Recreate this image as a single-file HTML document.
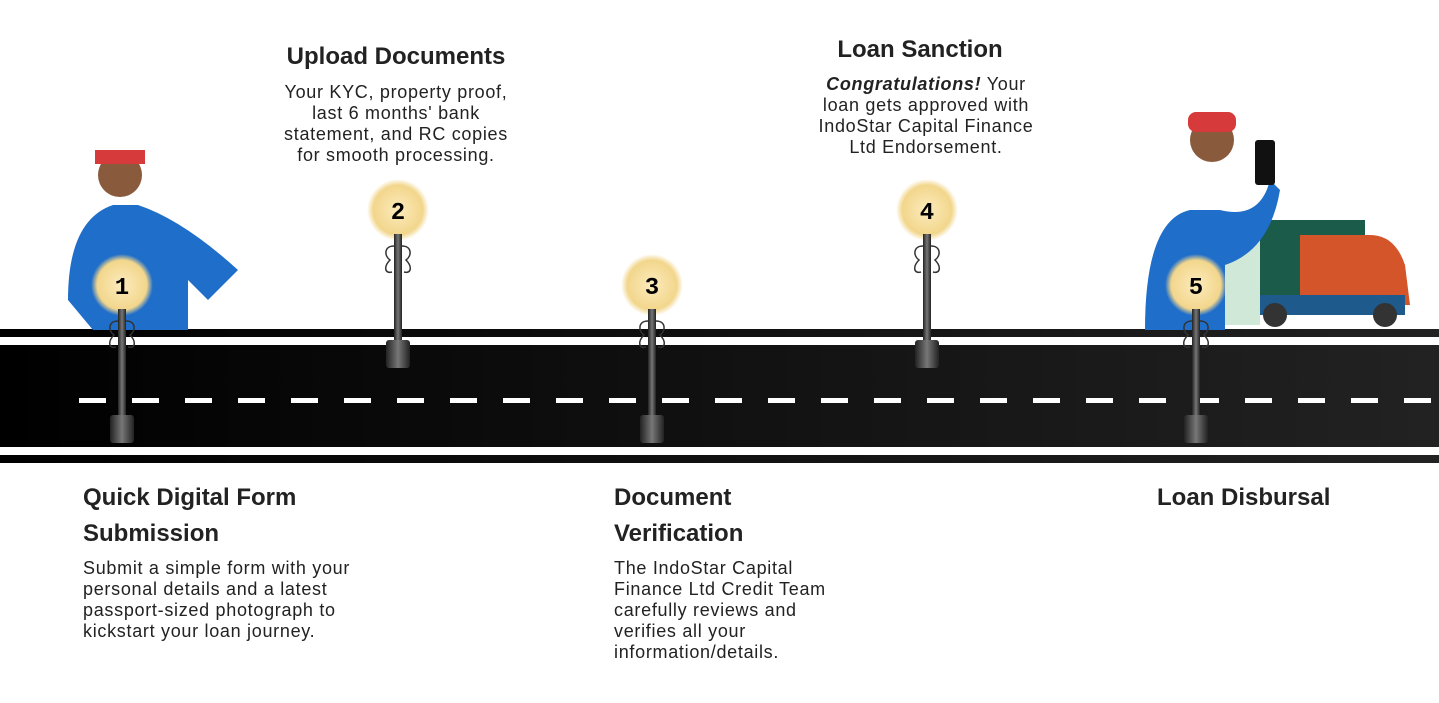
<!DOCTYPE html>
<html><head><style>
body{margin:0;width:1439px;height:703px;background:#fff;position:relative;overflow:hidden;font-family:"Liberation Sans",sans-serif;color:#222}
.h{position:absolute;font-weight:bold;font-size:24px;color:#222;line-height:36px}
.p{position:absolute;font-size:18px;letter-spacing:0.7px;line-height:21px;color:#222}
.c{text-align:center}
</style></head><body>
<svg width="1439" height="703" style="position:absolute;left:0;top:0">
<defs>
<linearGradient id="rd" x1="0" x2="1"><stop offset="0" stop-color="#000"/><stop offset="1" stop-color="#222"/></linearGradient>
<radialGradient id="gl"><stop offset="0" stop-color="#fcebbd"/><stop offset="0.8" stop-color="#f2d68c"/><stop offset="1" stop-color="#f2d68c" stop-opacity="0"/></radialGradient>
<linearGradient id="pl" x1="0" x2="1"><stop offset="0" stop-color="#222"/><stop offset=".5" stop-color="#777"/><stop offset="1" stop-color="#222"/></linearGradient>
<g id="lamp">
<circle cx="0" cy="0" r="31" fill="url(#gl)"/>
<rect x="-4" y="24" width="8" height="108" fill="url(#pl)"/>
<path d="M-4 36 c-10 0 -10 10 -4 14 c-6 6 -6 14 2 12 M4 36 c10 0 10 10 4 14 c6 6 6 14 -2 12" stroke="#333" stroke-width="1.5" fill="none"/>
<rect x="-12" y="130" width="24" height="28" rx="3" fill="url(#pl)"/>
</g>
</defs>
<rect x="0" y="329" width="1439" height="134" fill="url(#rd)"/>
<rect x="0" y="337" width="1439" height="8" fill="#fff"/>
<rect x="0" y="447" width="1439" height="8" fill="#fff"/>
<line x1="79" y1="400.5" x2="1439" y2="400.5" stroke="#fff" stroke-width="5" stroke-dasharray="27 26"/>
<path d="M68 300 q0-80 45-95 l25 0 q45 15 100 65 l-30 30 l-20-20 l0 50 l-95 0 z" fill="#1f6ec9"/>
<circle cx="120" cy="175" r="22" fill="#8a5a3c"/><rect x="95" y="150" width="50" height="14" fill="#d63a3a"/>
<rect x="1255" y="220" width="110" height="80" fill="#1a5b4a"/>
<path d="M1300 235 h70 q25 0 35 30 l5 40 h-110 z" fill="#d4552a"/>
<rect x="1255" y="295" width="150" height="20" fill="#1f5a8c"/>
<circle cx="1275" cy="315" r="12" fill="#333"/><circle cx="1385" cy="315" r="12" fill="#333"/>
<rect x="1205" y="240" width="55" height="85" fill="#cfe8d8"/>
<path d="M1145 330 q0-110 45-120 l30 0 q40 10 50-30 l10 10 q-10 60 -55 75 l0 65 z" fill="#1f6ec9"/>
<circle cx="1212" cy="140" r="22" fill="#8a5a3c"/><rect x="1188" y="112" width="48" height="20" rx="8" fill="#d63a3a"/>
<rect x="1255" y="140" width="20" height="45" rx="3" fill="#111"/>
<use href="#lamp" x="122" y="285"/>
<use href="#lamp" x="398" y="210"/>
<use href="#lamp" x="652" y="285"/>
<use href="#lamp" x="927" y="210"/>
<use href="#lamp" x="1196" y="285"/>
<g font-family="Liberation Mono,monospace" font-weight="bold" font-size="24" text-anchor="middle">
<text x="122" y="294">1</text><text x="398" y="219">2</text><text x="652" y="294">3</text><text x="927" y="219">4</text><text x="1196" y="294">5</text>
</g>
</svg>
<div class="h c" style="left:246px;width:300px;top:39px">Upload Documents</div>
<div class="p c" style="left:226px;width:340px;top:82px">Your KYC, property proof,<br>last 6 months' bank<br>statement, and RC copies<br>for smooth processing.</div>
<div class="h c" style="left:770px;width:300px;top:32px">Loan Sanction</div>
<div class="p c" style="left:756px;width:340px;top:74px"><b><i>Congratulations!</i></b> Your<br>loan gets approved with<br>IndoStar Capital Finance<br>Ltd Endorsement.</div>
<div class="h" style="left:83px;top:480px">Quick Digital Form<br>Submission</div>
<div class="p" style="left:83px;top:558px">Submit a simple form with your<br>personal details and a latest<br>passport-sized photograph to<br>kickstart your loan journey.</div>
<div class="h" style="left:614px;top:480px">Document<br>Verification</div>
<div class="p" style="left:614px;top:558px">The IndoStar Capital<br>Finance Ltd Credit Team<br>carefully reviews and<br>verifies all your<br>information/details.</div>
<div class="h" style="left:1157px;top:480px">Loan Disbursal</div>
</body></html>
